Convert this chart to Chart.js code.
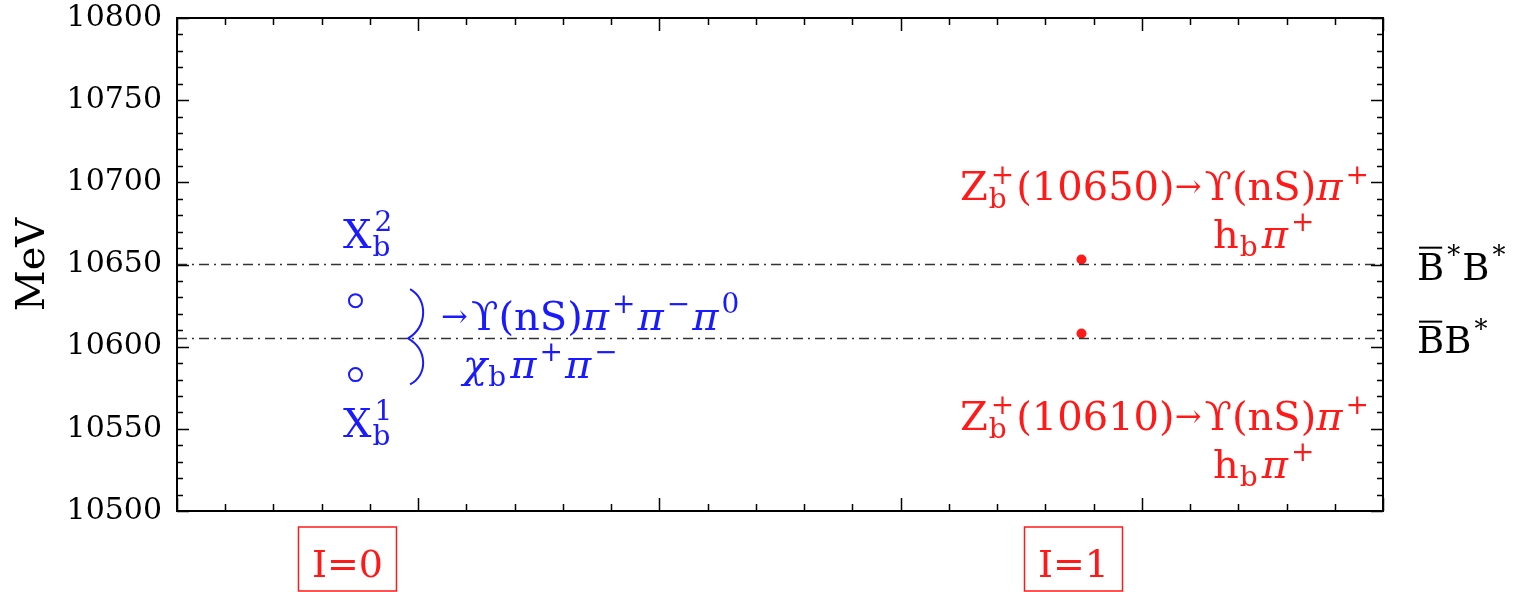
<!DOCTYPE html>
<html>
<head>
<meta charset="utf-8">
<style>
  html, body { margin: 0; padding: 0; background: #fff; }
  #wrap { width: 1519px; height: 592px; }
</style>
<script src="https://cdn.jsdelivr.net/npm/chart.js@4.4.1/dist/chart.umd.min.js"></script>
</head>
<body>
<div id="wrap"><canvas id="chart"></canvas></div>
<script>
// --- Data ---
const groupX = [0.74, 3.75];            // column of the I=0 and I=1 states
const groupNames = ['I=0', 'I=1'];
const xbMass = [10583, 10628];          // X_b^1, X_b^2 (predicted)
const zbMass = [10608, 10653];          // Z_b(10610), Z_b(10650)
const thresholds = [10605, 10650];      // BB*, B*B*
const yTicks = [10500, 10550, 10600, 10650, 10700, 10750, 10800];
const X_MIN = 0, X_MAX = 5;

// --- Style ---
const SERIF = '"DejaVu Serif", "Liberation Serif", serif';
const BLUE = '#1a1aff';
const RED = '#ff1a1a';

// threshold labels: B̄B*, B̄*B*
const thresholdParts = [
  [{ t: 'B', bar: true }, { t: 'B' }, { sup: '*' }],
  [{ t: 'B', bar: true }, { sup: '*' }, { t: 'B' }, { sup: '*' }]
];

const PI = { t: 'π', it: true };
const ARROW = { t: '→', s: 0.8, dy: -3 };

// annotations, anchored in data coordinates (left / baseline)
const notes = [
  { x: 0.688, y: 10660, c: BLUE, parts: [{ t: 'X' }, { sub: 'b', sup: '2' }] },
  { x: 0.688, y: 10545, c: BLUE, parts: [{ t: 'X' }, { sub: 'b', sup: '1' }] },
  { x: 1.095, y: 10610, c: BLUE, parts: [ARROW, { t: 'ϒ(nS)' }, PI, { sup: '+' }, PI, { sup: '−' }, PI, { sup: '0' }] },
  { x: 1.186, y: 10581, c: BLUE, parts: [{ t: 'χ', it: true }, { sub: 'b' }, PI, { sup: '+' }, PI, { sup: '−' }] },
  { x: 3.246, y: 10689, c: RED, parts: [{ t: 'Z' }, { sub: 'b', sup: '+' }, { t: '(10650)' }, ARROW, { t: 'ϒ(nS)' }, PI, { sup: '+' }] },
  { x: 4.295, y: 10660, c: RED, parts: [{ t: 'h' }, { sub: 'b' }, PI, { sup: '+' }] },
  { x: 3.246, y: 10549, c: RED, parts: [{ t: 'Z' }, { sub: 'b', sup: '+' }, { t: '(10610)' }, ARROW, { t: 'ϒ(nS)' }, PI, { sup: '+' }] },
  { x: 4.295, y: 10520, c: RED, parts: [{ t: 'h' }, { sub: 'b' }, PI, { sup: '+' }] }
];

// --- Helpers ---
function drawRich(ctx, x, y, parts, size, color) {
  const small = Math.round(size * 0.7);
  let cx = x;
  ctx.save();
  ctx.fillStyle = color;
  ctx.strokeStyle = color;
  ctx.textAlign = 'left';
  ctx.textBaseline = 'alphabetic';
  for (const p of parts) {
    if (p.t) {
      ctx.font = (p.it ? 'italic ' : '') + Math.round(size * (p.s || 1)) + 'px ' + SERIF;
      ctx.fillText(p.t, cx, y + (p.dy || 0));
      const w = ctx.measureText(p.t).width;
      if (p.bar) {
        ctx.lineWidth = 2;
        ctx.beginPath();
        ctx.moveTo(cx + 2, y - size * 0.86);
        ctx.lineTo(cx + w - 2, y - size * 0.86);
        ctx.stroke();
      }
      cx += w + (p.s ? 3 : 0);
    } else {
      ctx.font = small + 'px ' + SERIF;
      let w = 0;
      if (p.sup) {
        ctx.fillText(p.sup, cx + 3, y - size * 0.42);
        w = Math.max(w, ctx.measureText(p.sup).width);
      }
      if (p.sub) {
        ctx.fillText(p.sub, cx + 1, y + size * 0.2);
        w = Math.max(w, ctx.measureText(p.sub).width);
      }
      cx += w + 5;
    }
  }
  ctx.restore();
}

function drawBrace(ctx, xs, ys, x0, x1, yTop, yMid, yBot) {
  const px0 = xs.getPixelForValue(x0), px1 = xs.getPixelForValue(x1);
  const t = ys.getPixelForValue(yTop), m = ys.getPixelForValue(yMid), b = ys.getPixelForValue(yBot);
  ctx.save();
  ctx.strokeStyle = BLUE;
  ctx.lineWidth = 2;
  ctx.beginPath();
  ctx.moveTo(px0 + 2, t);
  ctx.bezierCurveTo(px1, t + (m - t) * 0.2, px1, m - (m - t) * 0.25, px0, m);
  ctx.bezierCurveTo(px1, m + (b - m) * 0.25, px1, b - (b - m) * 0.2, px0 + 2, b);
  ctx.stroke();
  ctx.restore();
}

// frame, inward ticks and all text annotations
const framePlugin = {
  id: 'frame',
  afterDraw(chart) {
    const { ctx, chartArea: a, scales: { x, y } } = chart;
    ctx.save();
    ctx.strokeStyle = '#000';
    ctx.lineWidth = 1.5;
    ctx.beginPath();
    for (let v = y.min; v <= y.max + 0.01; v += 10) {
      const py = Math.round(y.getPixelForValue(v)) + 0.5;
      const len = Math.abs(v % 50) < 0.01 ? 12 : 6;
      ctx.moveTo(a.left, py); ctx.lineTo(a.left + len, py);
      ctx.moveTo(a.right, py); ctx.lineTo(a.right - len, py);
    }
    for (let i = 0; i <= (x.max - x.min) * 5; i++) {
      const v = x.min + i * 0.2;
      const px = Math.round(x.getPixelForValue(v)) + 0.5;
      const len = i % 5 === 0 ? 13 : 7;
      ctx.moveTo(px, a.bottom); ctx.lineTo(px, a.bottom - len);
      ctx.moveTo(px, a.top); ctx.lineTo(px, a.top + len);
    }
    ctx.stroke();
    ctx.lineWidth = 2;
    ctx.strokeRect(a.left, a.top, a.right - a.left, a.bottom - a.top);
    ctx.restore();

    notes.forEach(n => drawRich(ctx, x.getPixelForValue(n.x), y.getPixelForValue(n.y), n.parts, 40, n.c));
    drawBrace(ctx, x, y, 0.958, 1.04, 10635, 10605, 10577);

    // threshold names to the right of the frame
    thresholds.forEach((v, i) => {
      drawRich(ctx, a.right + 34, y.getPixelForValue(v) + 15, thresholdParts[i], 37, '#000');
    });

    // isospin boxes below the axis
    groupX.forEach((gx, i) => {
      const cx = x.getPixelForValue(gx) - 8;
      const top = a.bottom + 16, w = 98, h = 64;
      ctx.save();
      ctx.strokeStyle = RED;
      ctx.fillStyle = RED;
      ctx.lineWidth = 1.5;
      ctx.strokeRect(cx - w / 2, top, w, h);
      ctx.font = '38px ' + SERIF;
      ctx.textAlign = 'center';
      ctx.textBaseline = 'alphabetic';
      ctx.fillText(groupNames[i], cx, top + 50);
      ctx.restore();
    });
  }
};

// --- Chart ---
const lineStyle = {
  showLine: true,
  borderColor: '#333',
  borderWidth: 1.4,
  borderDash: [10, 5, 2, 5],
  pointRadius: 0
};

new Chart(document.getElementById('chart').getContext('2d'), {
  type: 'scatter',
  data: {
    datasets: [
      ...thresholds.map(v => ({
        ...lineStyle,
        label: 'threshold ' + v,
        data: [{ x: X_MIN, y: v }, { x: X_MAX, y: v }]
      })),
      {
        label: 'X_b',
        data: xbMass.map(m => ({ x: groupX[0], y: m })),
        pointStyle: 'circle',
        pointRadius: 6.5,
        borderWidth: 2,
        borderColor: BLUE,
        backgroundColor: 'rgba(0,0,0,0)'
      },
      {
        label: 'Z_b',
        data: zbMass.map(m => ({ x: groupX[1], y: m })),
        pointStyle: 'circle',
        pointRadius: 5,
        borderWidth: 0,
        backgroundColor: RED
      }
    ]
  },
  options: {
    responsive: true,
    maintainAspectRatio: false,
    animation: false,
    devicePixelRatio: 1,
    layout: { padding: { top: 18, right: 136, left: 0, bottom: 0 } },
    plugins: { legend: { display: false }, tooltip: { enabled: false } },
    scales: {
      x: {
        type: 'linear',
        min: X_MIN,
        max: X_MAX,
        grid: { display: false, drawTicks: false },
        border: { display: false },
        ticks: { display: false },
        afterFit(s) { s.height = 81; }
      },
      y: {
        type: 'linear',
        min: yTicks[0],
        max: yTicks[yTicks.length - 1],
        grid: { display: false, drawTicks: true, tickLength: 15 },
        border: { display: false },
        afterBuildTicks(s) { s.ticks = yTicks.map(v => ({ value: v })); },
        ticks: {
          color: '#000',
          padding: 0,
          font: { family: SERIF, size: 30, lineHeight: 1 },
          callback: v => String(v)
        },
        title: {
          display: true,
          text: 'MeV',
          color: '#000',
          padding: { top: 10, bottom: 0 },
          font: { family: SERIF, size: 40 }
        },
        afterFit(s) { s.width = 177; }
      }
    }
  },
  plugins: [framePlugin]
});
</script>
</body>
</html>
